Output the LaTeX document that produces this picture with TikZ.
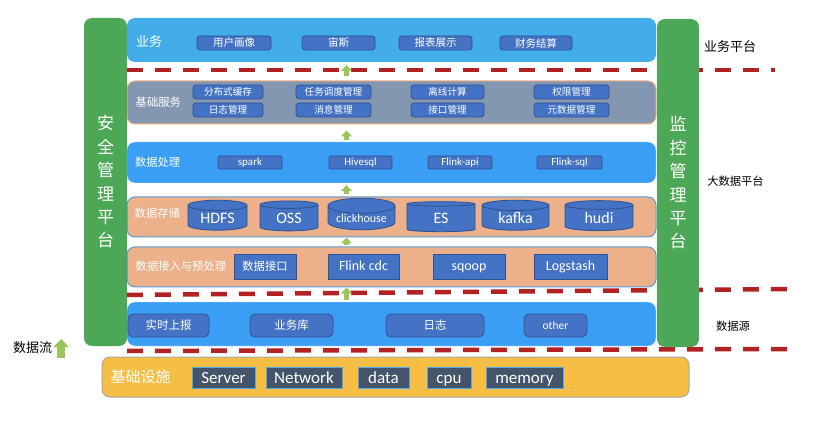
\documentclass[tikz,border=0pt]{standalone}
\usepackage{fontspec}
\setmainfont{Carlito}
\newfontfamily\cjk{Noto Sans CJK SC}
\usetikzlibrary{arrows.meta,positioning,calc,shapes.geometric}

\definecolor{bizblue}{RGB}{66,173,232}
\definecolor{layblue}{RGB}{59,158,245}
\definecolor{tagblue}{RGB}{68,114,196}
\definecolor{tagedge}{RGB}{47,82,143}
\definecolor{svcgray}{RGB}{132,151,176}
\definecolor{svcedge}{RGB}{244,177,131}
\definecolor{peach}{RGB}{236,176,138}
\definecolor{peachedge}{RGB}{91,155,213}
\definecolor{bargreen}{RGB}{76,168,86}
\definecolor{infrayellow}{RGB}{246,190,68}
\definecolor{infraslate}{RGB}{68,84,106}
\definecolor{infraedge}{RGB}{80,170,230}
\definecolor{cutred}{RGB}{178,34,34}
\definecolor{flowgreen}{RGB}{155,196,90}

\begin{document}
\begin{tikzpicture}[x=1pt, y=1pt,
    layer/.style={rounded corners=8pt, minimum width=529pt, inner sep=0pt},
    lbl/.style={inner sep=0pt, text=white, font=\cjk\fontsize{11.3}{12}\selectfont},
    tag/.style={draw=tagedge, fill=tagblue, text=white, inner sep=0pt, line width=0.8pt},
    biztag/.style={tag, rounded corners=3pt, minimum height=14pt, font=\cjk\fontsize{10.5}{11}\selectfont},
    svctag/.style={tag, rounded corners=3pt, minimum height=14pt, font=\cjk\fontsize{9.6}{10}\selectfont},
    proctag/.style={tag, rounded corners=2pt, minimum height=11pt, text height=9.9pt, text depth=3.1pt, font=\fontsize{11}{11}\selectfont},
    intag/.style={tag, minimum height=25pt, font=\fontsize{14}{14}\selectfont},
    latin/.style={text height=12.6pt, text depth=3.9pt},
    srctag/.style={tag, rounded corners=5pt, minimum height=23pt, font=\cjk\fontsize{11.5}{12}\selectfont},
    dbcyl/.style={shape=cylinder, shape border rotate=90, aspect=0.3, draw=tagedge, fill=tagblue, text=white, inner sep=0pt, line width=0.8pt, minimum height=30pt, font=\fontsize{16}{16}\selectfont},
    hw/.style={draw=infraedge, fill=infraslate, text=white, text height=15.3pt, text depth=4.8pt, inner sep=0pt, line width=1pt, minimum height=20pt, font=\fontsize{17}{17}\selectfont},
    sidebar/.style={fill=bargreen, rounded corners=8pt, minimum height=328pt, inner sep=0pt, text=white, align=center, font=\cjk\fontsize{17}{23.4}\selectfont},
    cut/.style={draw=cutred, line width=4.5pt, dash pattern=on 16pt off 12pt},
    flowup/.style={draw=flowgreen, line width=5pt, -{Triangle[width=11pt,length=6pt]}},
    note/.style={inner sep=0pt, font=\cjk\fontsize{11.3}{12}\selectfont}
]
\useasboundingbox (0,0) rectangle (818,423);

% separators
\draw[cut] (127,353) -- (775,353);
\draw[cut] (127,128) -- (790,134);
\draw[cut] (127,72) -- (790,74);

% layers
\node[layer, fill=bizblue, minimum height=44pt] (biz) at (391.5,383) {};
\node[layer, fill=svcgray, draw=svcedge, line width=1pt, minimum height=43pt] (svc) at (391.5,320.5) {};
\node[layer, fill=layblue, draw=white!75!layblue, minimum height=41pt] (proc) at (391.5,260.5) {};
\node[layer, fill=peach, draw=peachedge, line width=1pt, minimum height=40pt] (store) at (391.5,206) {};
\node[layer, fill=peach, draw=peachedge, line width=1pt, minimum height=40pt] (ingest) at (391.5,156) {};
\node[layer, fill=layblue, draw=white!75!layblue, minimum height=44pt] (src) at (391.5,99) {};
\node[layer, fill=infrayellow, draw=gray!70, line width=1pt, minimum width=587pt, minimum height=40pt] (infra) at (395.5,46) {};

\node[lbl, right=9pt of biz.west, yshift=-2pt, font=\cjk\fontsize{13}{14}\selectfont] (bizlbl) {业务};
\node[lbl, right=9pt of svc.west] (svclbl) {基础服务};
\node[lbl, right=8pt of proc.west] (proclbl) {数据处理};
\node[lbl, right=8pt of store.west, yshift=4pt] (storelbl) {数据存储};
\node[lbl, right=9pt of ingest.west, yshift=1pt] (inglbl) {数据接入与预处理};
\node[lbl, right=9pt of infra.west, font=\cjk\fontsize{15}{16}\selectfont] (infralbl) {基础设施};

% business
\node[biztag, minimum width=74pt] (portrait) at (234,380) {用户画像};
\node[biztag, minimum width=73pt] (zeus) at (338.5,380) {宙斯};
\node[biztag, minimum width=73pt] (report) at (435.5,380) {报表展示};
\node[biztag, minimum width=72pt] (finance) at (536,380) {财务结算};

% base services
\node[svctag, minimum width=70pt] (cache) at (228,331) {分布式缓存};
\node[svctag, minimum width=75pt] (sched) at (333.5,331) {任务调度管理};
\node[svctag, minimum width=73pt] (offline) at (447.5,331) {离线计算};
\node[svctag, minimum width=75pt] (auth) at (571.5,331) {权限管理};
\node[svctag, minimum width=70pt] (logmgr) at (228,313) {日志管理};
\node[svctag, minimum width=75pt] (msg) at (333.5,313) {消息管理};
\node[svctag, minimum width=73pt] (api) at (447.5,313) {接口管理};
\node[svctag, minimum width=75pt] (meta) at (571.5,313) {元数据管理};

% processing
\node[proctag, minimum width=64pt] (spark) at (250,260.5) {spark};
\node[proctag, minimum width=63pt] (hive) at (360.5,260.5) {Hivesql};
\node[proctag, minimum width=64pt] (flinkapi) at (460,260.5) {Flink-api};
\node[proctag, minimum width=65pt] (flinksql) at (569.5,260.5) {Flink-sql};

% storage
\node[dbcyl, minimum width=59pt] (hdfs) at (217.5,205) {HDFS};
\node[dbcyl, minimum width=58pt] (oss) at (289,205) {OSS};
\node[dbcyl, minimum width=67pt, font=\fontsize{12}{12}\selectfont] (ck) at (361.5,205) {clickhouse};
\node[dbcyl, minimum width=68pt] (es) at (441,205) {ES};
\node[dbcyl, minimum width=67pt] (kafka) at (515.5,205) {kafka};
\node[dbcyl, minimum width=68pt] (hudi) at (599,205) {hudi};

% ingestion
\node[intag, minimum width=62pt, font=\cjk\fontsize{11.3}{12}\selectfont] (dataapi) at (265,156.5) {数据接口};
\node[intag, latin, minimum width=71pt] (cdc) at (363.5,156.5) {Flink cdc};
\node[intag, latin, minimum width=72pt] (sqoop) at (469,156.5) {sqoop};
\node[intag, latin, minimum width=73pt] (logstash) at (570.5,156.5) {Logstash};

% sources
\node[srctag, minimum width=81pt] (realtime) at (168.5,97.5) {实时上报};
\node[srctag, minimum width=83pt] (bizdb) at (291.5,97.5) {业务库};
\node[srctag, minimum width=98pt] (logs) at (435,97.5) {日志};
\node[srctag, minimum width=63pt, text height=10.3pt, text depth=3.2pt, font=\fontsize{11.5}{12}\selectfont] (other) at (555.5,97.5) {other};

% infrastructure
\node[hw, minimum width=63pt] (server) at (223.5,45) {Server};
\node[hw, minimum width=76pt] (network) at (304,45) {Network};
\node[hw, minimum width=51pt] (disk) at (383.5,45) {data};
\node[hw, minimum width=44pt] (cpu) at (449,45) {cpu};
\node[hw, minimum width=77pt] (mem) at (524.5,45) {memory};

% side platforms
\node[sidebar, minimum width=43pt] (secure) at (105.5,241) {安\\全\\管\\理\\平\\台};
\node[sidebar, minimum width=42pt] (monitor) at (678,240) {监\\控\\管\\理\\平\\台};

\node[note, font=\cjk\fontsize{13}{14}\selectfont] (bizplat) at (730,376) {业务平台};
\node[note] (bigdata) at (735.5,242) {大数据平台};
\node[note] (datasrc) at (733,97) {数据源};
\node[note, font=\cjk\fontsize{13}{14}\selectfont] (flow) at (32.5,75) {数据流};

% flow arrows
\draw[flowup] ($(svc.north)+(-45,4)$) -- ($(biz.south)+(-45,-3)$);
\draw[flowup] ($(proc.north)+(-45,2)$) -- ($(svc.south)+(-45,-6)$);
\draw[flowup] ($(store.north)+(-45,2)$) -- ($(proc.south)+(-45,-2)$);
\draw[flowup] ($(ingest.north)+(-45,1)$) -- ($(store.south)+(-45,0)$);
\draw[flowup] ($(src.north)+(-45,2)$) -- ($(ingest.south)+(-45,0)$);
\draw[flowup, line width=8pt, -{Triangle[width=15pt,length=8pt]}] ($(flow.east)+(9,-10)$) -- ++(0,19);
\end{tikzpicture}
\end{document}
